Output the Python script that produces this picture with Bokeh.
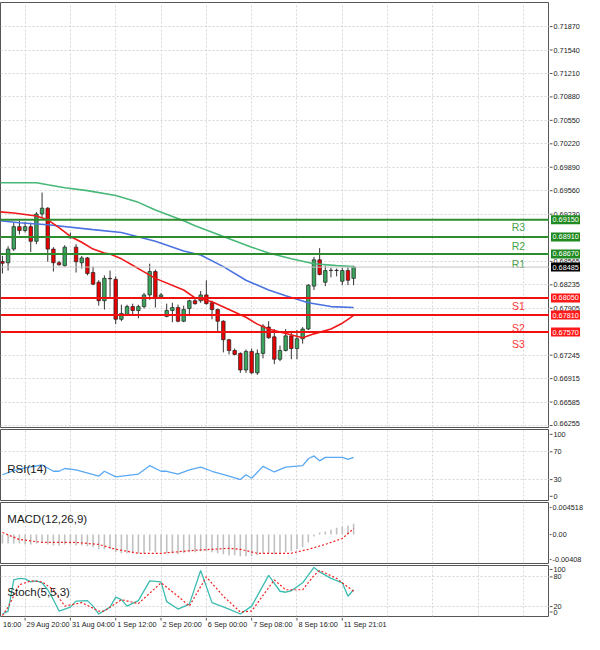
from bokeh.plotting import figure
from bokeh.layouts import column, row
from bokeh.models import FixedTicker, Label, Range1d, Span, ColumnDataSource, Grid
from bokeh.embed import file_html
from bokeh.resources import INLINE
from bokeh.core.properties import value

FONT = "Liberation Sans"

# ---------------- data (H4 candles) ----------------
candle_idx = list(range(63))
opens = [0.68564, 0.68546, 0.68738, 0.69054, 0.68999, 0.69054, 0.68848, 0.69232, 0.69314, 0.68738,
         0.68546, 0.68505, 0.68903, 0.68765, 0.68546, 0.68614, 0.68409, 0.68272, 0.68011, 0.68326,
         0.68313, 0.67750, 0.67819, 0.67929, 0.67874, 0.67929, 0.68093, 0.68422, 0.68066, 0.67791,
         0.67874, 0.67915, 0.67723, 0.67901, 0.68011, 0.68011, 0.68093, 0.67983, 0.67887, 0.67723,
         0.67462, 0.67311, 0.67270, 0.67037, 0.67298, 0.66996, 0.67270, 0.67640, 0.67503, 0.67188,
         0.67311, 0.67517, 0.67339, 0.67476, 0.67613, 0.68217, 0.68587, 0.68272, 0.68436, 0.68436,
         0.68285, 0.68436, 0.68326]
highs = [0.68642, 0.68779, 0.69108, 0.69136, 0.69122, 0.69108, 0.69260, 0.69534, 0.69328, 0.68765,
         0.68573, 0.68793, 0.68971, 0.68807, 0.68642, 0.68628, 0.68491, 0.68299, 0.68368, 0.68436,
         0.68354, 0.67956, 0.67956, 0.67970, 0.67956, 0.68121, 0.68532, 0.68450, 0.68121, 0.67970,
         0.67983, 0.67956, 0.67942, 0.68025, 0.68038, 0.68148, 0.68299, 0.68011, 0.67901, 0.67737,
         0.67476, 0.67339, 0.67284, 0.67325, 0.67339, 0.67325, 0.67682, 0.67723, 0.67613, 0.67380,
         0.67613, 0.67586, 0.67599, 0.67640, 0.68244, 0.68628, 0.68752, 0.68505, 0.68477, 0.68464,
         0.68477, 0.68491, 0.68505]
lows = [0.68395, 0.68436, 0.68711, 0.68944, 0.68971, 0.68697, 0.68807, 0.69191, 0.68560, 0.68422,
        0.68505, 0.68491, 0.68889, 0.68409, 0.68464, 0.68368, 0.68230, 0.67942, 0.67887, 0.68066,
        0.67682, 0.67723, 0.67805, 0.67819, 0.67764, 0.67901, 0.68025, 0.67915, 0.68052, 0.67778,
        0.67709, 0.67709, 0.67709, 0.67819, 0.67956, 0.67983, 0.67956, 0.67750, 0.67572, 0.67284,
        0.67256, 0.67243, 0.66996, 0.66996, 0.66982, 0.66968, 0.67201, 0.67476, 0.67119, 0.67160,
        0.67298, 0.67188, 0.67188, 0.67407, 0.67599, 0.68162, 0.68368, 0.68217, 0.68340, 0.68354,
        0.68230, 0.68230, 0.68230]
closes = [0.68539, 0.68738, 0.69054, 0.68999, 0.69054, 0.68848, 0.69232, 0.69314, 0.68738, 0.68546,
          0.68518, 0.68765, 0.68896, 0.68560, 0.68614, 0.68395, 0.68244, 0.68011, 0.68326, 0.68320,
          0.67750, 0.67832, 0.67929, 0.67874, 0.67929, 0.68093, 0.68422, 0.68052, 0.68093, 0.67874,
          0.67915, 0.67723, 0.67887, 0.68011, 0.67970, 0.68093, 0.67970, 0.67887, 0.67723, 0.67462,
          0.67311, 0.67256, 0.67037, 0.67298, 0.66996, 0.67270, 0.67654, 0.67490, 0.67188, 0.67311,
          0.67517, 0.67339, 0.67476, 0.67613, 0.68230, 0.68587, 0.68381, 0.68436, 0.68440, 0.68440,
          0.68436, 0.68299, 0.68485]

# moving averages (read at selected bars)
ma_green_x = [-1, 6, 8, 11, 15, 20, 24, 27, 32, 34, 39, 44, 47, 51, 55, 59, 62]
ma_green_y = [0.69671, 0.69671, 0.69643, 0.69602, 0.69561, 0.69492, 0.69396, 0.69287, 0.69136, 0.69067,
              0.68916, 0.68765, 0.68683, 0.68601, 0.68532, 0.68505, 0.68491]
ma_blue_x = [-1, 3, 8, 16, 21, 27, 32, 35, 39, 43, 47, 50, 54, 58, 62]
ma_blue_y = [0.69143, 0.69108, 0.69081, 0.69012, 0.68971, 0.68848, 0.68711, 0.68656, 0.68491, 0.68299,
             0.68162, 0.68080, 0.67983, 0.67929, 0.67915]
ma_red_x = [-1, 2, 6, 8, 10, 12, 14, 16, 18, 19, 21, 24, 27, 32, 34, 37, 40, 43, 45, 47, 49, 53, 55, 58, 60, 61, 62]
ma_red_y = [0.69266, 0.69246, 0.69204, 0.69150, 0.69040, 0.68916, 0.68834, 0.68738, 0.68683, 0.68669,
            0.68601, 0.68464, 0.68326, 0.68162, 0.68052, 0.67997, 0.67887, 0.67778, 0.67682, 0.67613,
            0.67572, 0.67490, 0.67545, 0.67613, 0.67695, 0.67750, 0.67805]

# pivot levels
pivot_names = ["R3", "R2", "R1", "S1", "S2", "S3"]
pivot_levels = [0.69150, 0.68910, 0.68670, 0.68050, 0.67810, 0.67570]
pivot_text_y = [0.69054, 0.68779, 0.68532, 0.67935, 0.67634, 0.67407]
pivot_labels = ["0.69150", "0.68910", "0.68670", "0.68050", "0.67810", "0.67570"]
last_price = 0.68485
last_label = "0.68485"

# price axis ticks
price_ticks = [0.71870, 0.71540, 0.71210, 0.70880, 0.70550, 0.70220, 0.69890, 0.69560, 0.69230,
               0.68565, 0.68235, 0.67905, 0.67245, 0.66915, 0.66585]
price_tick_labels = ["0.71870", "0.71540", "0.71210", "0.70880", "0.70550", "0.70220", "0.69890",
                     "0.69560", "0.69230", "0.68565", "0.68235", "0.67905", "0.67245", "0.66915", "0.66585"]
price_bottom_tick = [0.66255]
price_bottom_label = ["0.66255"]
price_grid = [0.71870, 0.71540, 0.71210, 0.70880, 0.70550, 0.70220, 0.69890, 0.69560, 0.69230, 0.68895,
              0.68565, 0.68235, 0.67905, 0.67575, 0.67245, 0.66915, 0.66585, 0.66255]

# RSI(14)
rsi_x = [0, 2, 4, 7, 9, 10, 11, 13, 17, 18, 20, 24, 26, 28, 29, 31, 33, 35, 37, 40, 42, 43, 44, 46, 48, 50,
         53, 54, 55, 56, 57, 60, 61, 62]
rsi_v = [37, 43, 47, 51, 42, 42, 46, 44, 35, 42, 34, 38, 50, 42, 42, 38, 44, 48, 42, 35, 30, 37, 32, 49, 41,
         48, 50, 60, 64, 57, 62, 62, 59, 62]
rsi_ticks = [95, 70, 30, 6]
rsi_tick_labels = ["100", "70", "30", "0"]

# MACD(12,26,9)
macd_hist = [-0.00125, -0.00125, -0.00125, -0.00125, -0.00139, -0.00139, -0.00125, -0.00111, -0.00139, -0.00153,
             -0.00153, -0.00139, -0.00139, -0.00153, -0.00153, -0.00166, -0.00180, -0.00208, -0.00208, -0.00208,
             -0.00250, -0.00264, -0.00264, -0.00264, -0.00264, -0.00264, -0.00236, -0.00250, -0.00250, -0.00264,
             -0.00264, -0.00277, -0.00264, -0.00250, -0.00250, -0.00236, -0.00236, -0.00250, -0.00264, -0.00277,
             -0.00291, -0.00291, -0.00305, -0.00305, -0.00305, -0.00291, -0.00264, -0.00264, -0.00277, -0.00277,
             -0.00250, -0.00236, -0.00208, -0.00180, -0.00111, -0.00028, 0.00028, 0.00042, 0.00069, 0.00097,
             0.00111, 0.00125, 0.00153]
macd_sig_x = [0, 3, 7, 13, 17, 20, 24, 28, 34, 40, 42, 45, 51, 54, 57, 60, 62]
macd_sig_v = [0.00028, -0.00069, -0.00111, -0.00111, -0.00139, -0.00208, -0.00264, -0.00264, -0.00222, -0.00194,
              -0.00208, -0.00264, -0.00264, -0.00208, -0.00139, -0.00055, 0.00083]
macd_ticks = [0.00382, 0, -0.00353]
macd_tick_labels = ["0.004518", "0.00", "-0.00408"]

# Stochastic(5,5,3)
st_k_x = [0, 1, 2, 3, 4, 5, 6, 7, 8, 9, 10, 12, 13, 15, 16, 17, 19, 20, 21, 22, 24, 26, 28, 29, 31, 33, 35,
          37, 40, 42, 44, 47, 49, 50, 51, 53, 55, 56, 58, 60, 61, 62]
st_k_v = [5, 11, 74, 77, 76, 70, 72, 68, 54, 34, 11, 19, 31, 32, 21, 5, 19, 39, 34, 21, 32, 72, 70, 30, 15, 25,
          93, 28, 15, 5, 21, 83, 51, 49, 52, 68, 99, 90, 77, 68, 41, 54]
st_d_x = [0, 1, 3, 5, 7, 9, 11, 14, 17, 18, 21, 24, 28, 31, 33, 36, 39, 42, 44, 48, 50, 53, 55, 56, 59, 60, 62]
st_d_v = [2, 19, 64, 72, 70, 54, 21, 28, 11, 11, 34, 26, 68, 41, 21, 80, 41, 9, 11, 74, 54, 54, 83, 93, 77, 68, 51]
st_ticks = [95, 80, 20, 9]
st_tick_labels = ["100", "80", "20", "0"]

# time axis
time_ticks = [-0.15, 4, 12, 20, 28, 36, 44, 52, 60]
time_labels = ["16:00", "29 Aug 20:00", "31 Aug 04:00", "1 Sep 12:00", "2 Sep 20:00",
               "6 Sep 00:00", "7 Sep 08:00", "8 Sep 16:00", "11 Sep 21:01"]
time_grid = [4, 12, 20, 28, 36, 44, 52, 60, 68, 76, 84, 92]

# ---------------- styling ----------------
FW = 549
AW = 34
GRID_C = "#d6d6d6"
AXIS_C = "#555555"
LBL_C = "#222222"
AX_FS = "7.3px"
xr = Range1d(-0.34, 96.58)


def make_fig(h, yr, top=1, bottom=1):
    f = figure(frame_width=FW, frame_height=h, x_range=xr, y_range=yr,
               output_backend="svg", toolbar_location=None,
               y_axis_location=None, x_axis_location=None,
               min_border_left=0, min_border_right=0, min_border_top=top, min_border_bottom=bottom)
    f.outline_line_color = AXIS_C
    f.outline_line_width = 1
    for g in f.grid:
        g.visible = False
    f.add_layout(Grid(dimension=0, ticker=FixedTicker(ticks=time_grid), grid_line_color=GRID_C,
                      grid_line_dash="2 2", grid_line_width=1), "center")
    return f


def make_axis(panel, ticks, labels, tick_len=3):
    a = figure(frame_width=AW, frame_height=panel.frame_height, x_range=Range1d(0, AW), y_range=panel.y_range,
               output_backend="svg", toolbar_location=None,
               y_axis_location=None, x_axis_location=None,
               min_border_left=0, min_border_right=0,
               min_border_top=panel.min_border_top, min_border_bottom=panel.min_border_bottom)
    a.outline_line_color = None
    for g in a.grid:
        g.visible = False
    a.segment(x0=0, x1=tick_len, y0=ticks, y1=ticks, line_color=AXIS_C, line_width=1)
    a.text(x=tick_len + 1, y=ticks, text=labels, text_font=value(FONT), text_font_size=AX_FS,
           text_color=LBL_C, text_align="left", text_baseline="middle")
    return a


# ---------------- main price panel ----------------
p = make_fig(425, Range1d(0.66227, 0.72209), top=2)
p.add_layout(Grid(dimension=1, ticker=FixedTicker(ticks=price_grid), grid_line_color=GRID_C,
                  grid_line_dash="2 2", grid_line_width=1), "center")
p.add_layout(Span(location=last_price, dimension="width", line_color="#c4c4c4", line_width=1))

up_c = "#3aa55d"
dn_c = "#e80000"
src = ColumnDataSource(dict(
    i=candle_idx, o=opens, h=highs, l=lows, c=closes,
    top=[max(a, b) for a, b in zip(opens, closes)],
    bot=[min(a, b) for a, b in zip(opens, closes)],
    color=[up_c if c >= o else dn_c for o, c in zip(opens, closes)],
))
p.segment(x0="i", y0="l", x1="i", y1="h", source=src, line_color="#333333", line_width=1)
p.vbar(x="i", width=0.62, top="top", bottom="bot", fill_color="color", line_color="#222222",
       line_width=0.7, source=src)

p.line(ma_green_x, ma_green_y, line_color="#48b878", line_width=1.6)
p.line(ma_blue_x, ma_blue_y, line_color="#4a72e0", line_width=1.6)
p.line(ma_red_x, ma_red_y, line_color="#f01818", line_width=1.6)

r_line_c, r_text_c, r_box_c = "#2d8c2d", "#4aa24a", "#1f8a1f"
s_line_c, s_text_c, s_box_c = "#f01010", "#ff3535", "#ff1a1a"
pv_line_c = [r_line_c if n.startswith("R") else s_line_c for n in pivot_names]
pv_text_c = [r_text_c if n.startswith("R") else s_text_c for n in pivot_names]
pv_box_c = [r_box_c if n.startswith("R") else s_box_c for n in pivot_names]
for lvl, lc in zip(pivot_levels, pv_line_c):
    p.add_layout(Span(location=lvl, dimension="width", line_color=lc, line_width=2))
p.text(x=[91.1] * len(pivot_names), y=pivot_text_y, text=pivot_names, text_color=pv_text_c,
       text_font=value(FONT), text_font_size="10.5px", text_align="center", text_baseline="middle")

pa = make_axis(p, price_ticks, price_tick_labels)
pa.segment(x0=0, x1=3, y0=price_bottom_tick, y1=price_bottom_tick, line_color=AXIS_C)
pa.text(x=4, y=price_bottom_tick, text=price_bottom_label, text_font=value(FONT), text_font_size=AX_FS,
        text_color=LBL_C, text_align="left", text_baseline="bottom")
box_levels = pivot_levels + [last_price]
box_labels = pivot_labels + [last_label]
box_colors = pv_box_c + ["#000000"]
pa.rect(x=16, y=box_levels, width=29, height=9, width_units="screen", height_units="screen",
        fill_color=box_colors, line_color=None)
pa.text(x=3, y=box_levels, text=box_labels, text_font=value(FONT), text_font_size=AX_FS,
        text_color="white", text_align="left", text_baseline="middle")

# ---------------- RSI ----------------
r = make_fig(71, Range1d(0, 102))
r.add_layout(Grid(dimension=1, ticker=FixedTicker(ticks=[70, 30]), grid_line_color=GRID_C,
                  grid_line_dash="2 2"), "center")
r.line(rsi_x, rsi_v, line_color="#5aa8f2", line_width=1.3)
r.add_layout(Label(x=0.86, y=45, text="RSI(14)", text_font=FONT, text_font_size="11.5px",
                   text_color="#1a1a1a", text_baseline="middle"))
ra = make_axis(r, rsi_ticks, rsi_tick_labels)

# ---------------- MACD ----------------
m = make_fig(61, Range1d(-0.00408, 0.004518))
m.vbar(x=candle_idx, top=macd_hist, bottom=0, width=0.28, fill_color="#c0c0c0", line_color=None)
m.line(macd_sig_x, macd_sig_v, line_color="#f02020", line_width=1.2, line_dash="2 2")
m.add_layout(Label(x=0.86, y=0.0022, text="MACD(12,26,9)", text_font=FONT, text_font_size="11.5px",
                   text_color="#1a1a1a", text_baseline="middle"))
ma_ax = make_axis(m, macd_ticks, macd_tick_labels, tick_len=2)

# ---------------- Stochastic ----------------
s = make_fig(51, Range1d(0, 103))
s.add_layout(Grid(dimension=1, ticker=FixedTicker(ticks=[80, 20]), grid_line_color=GRID_C,
                  grid_line_dash="2 2"), "center")
s.line(st_k_x, st_k_v, line_color="#3cbcb0", line_width=1.3)
s.line(st_d_x, st_d_v, line_color="#f02020", line_width=1.2, line_dash="2 2")
s.add_layout(Label(x=0.86, y=49, text="Stoch(5,5,3)", text_font=FONT, text_font_size="11.5px",
                   text_color="#1a1a1a", text_baseline="middle"))
sa = make_axis(s, st_ticks, st_tick_labels)

# ---------------- time labels strip ----------------
xs = figure(frame_width=FW, frame_height=13, x_range=xr, y_range=Range1d(0, 13),
            output_backend="svg", toolbar_location=None, y_axis_location=None, x_axis_location=None,
            min_border_left=0, min_border_right=0, min_border_top=0, min_border_bottom=0)
xs.outline_line_color = None
for g in xs.grid:
    g.visible = False
xs.segment(x0=time_ticks[1:], x1=time_ticks[1:], y0=13, y1=10, line_color=AXIS_C)
xs.text(x=time_ticks, y=6, text=time_labels, text_font=value(FONT), text_font_size=AX_FS,
        text_color=LBL_C, text_align="left", text_baseline="middle", x_offset=1.5)

layout = column(row(p, pa, spacing=0), row(r, ra, spacing=0), row(m, ma_ax, spacing=0),
                row(s, sa, spacing=0), xs, spacing=0)
open("out.html", "w").write(file_html(layout, INLINE))
